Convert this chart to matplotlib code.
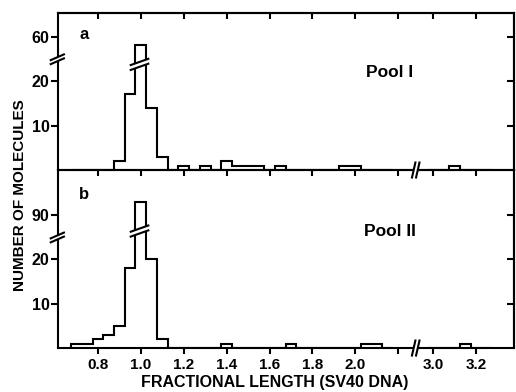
import numpy as np
import matplotlib
matplotlib.use('Agg')
from matplotlib import pyplot as plt
from matplotlib.transforms import blended_transform_factory

# histogram counts (bin width 0.05, given by bin centre)
pool1_centers = [0.90, 0.95, 1.00, 1.05, 1.10, 1.20, 1.30, 1.40, 1.45, 1.50, 1.55, 1.65, 1.95, 2.00, 3.10]
pool1_counts = [2, 17, 58, 14, 3, 1, 1, 2, 1, 1, 1, 1, 1, 1, 1]
pool2_centers = [0.70, 0.75, 0.80, 0.85, 0.90, 0.95, 1.00, 1.05, 1.10, 1.40, 1.70, 2.05, 2.10, 3.15]
pool2_counts = [1, 1, 2, 3, 5, 18, 93, 20, 2, 1, 1, 1, 1, 1]

x_ticks = [0.8, 1.0, 1.2, 1.4, 1.6, 1.8, 2.0, 2.2, 3.0, 3.2]
x_ticklabels = ['0.8', '1.0', '1.2', '1.4', '1.6', '1.8', '2.0', '', '3.0', '3.2']
pool1_yticks = [10, 20, 60]
pool2_yticks = [10, 20, 90]

BIN = 0.05
X_GAP = 0.637     # x axis is cut between 2.2 and 3.0
Y_CUT = 25        # y axis is cut above this value

plt.rcParams['font.family'] = ['Liberation Sans', 'DejaVu Sans']
plt.rcParams['font.weight'] = 'bold'
LW = 1.5


def xpos(v):
    v = np.asarray(v, dtype=float)
    return np.where(v > 2.5, v - X_GAP, v)


def ypos(v, off):
    v = np.asarray(v, dtype=float)
    return np.where(v > Y_CUT, v - off, v)


def make_hist(centers, counts, lo, hi):
    edges = np.arange(lo, hi + BIN / 2, BIN)
    vals = np.zeros(len(edges) - 1)
    for c, n in zip(centers, counts):
        i = int(round((c - lo) / BIN - 0.5))
        if 0 <= i < len(vals):
            vals[i] = n
    return edges, vals


def draw_panel(ax, centers, counts, yoff, yticks, ytop, letter, pool, ybar, pool_y):
    for lo, hi in [(0.675, 2.175), (2.975, 3.275)]:
        edges, vals = make_hist(centers, counts, lo, hi)
        ax.stairs(ypos(vals, yoff), xpos(edges), color='k', lw=LW, baseline=0, zorder=3)

    # break marks across the tall peak bar
    xs = np.array([0.953, 1.035])
    poly_x = [xs[0], xs[1], xs[1], xs[0]]
    poly_y = [ybar - 0.7, ybar + 0.7, ybar + 1.8, ybar + 0.4]
    ax.fill(poly_x, poly_y, color='white', zorder=4, lw=0)
    ax.plot(xs, [ybar - 0.7, ybar + 0.7], color='k', lw=LW, zorder=5)
    ax.plot(xs, [ybar + 0.4, ybar + 1.8], color='k', lw=LW, zorder=5)

    # break marks on the left y spine
    tr = blended_transform_factory(ax.transAxes, ax.transData)
    bx = np.array([-0.016, 0.013])
    ax.fill([bx[0], bx[1], bx[1], bx[0]], [Y_CUT - 1.2, Y_CUT + 0.1, Y_CUT + 1.0, Y_CUT - 0.3],
            color='white', transform=tr, clip_on=False, zorder=6, lw=0)
    ax.plot(bx, [Y_CUT - 1.2, Y_CUT + 0.1], color='k', lw=LW, transform=tr, clip_on=False, zorder=7)
    ax.plot(bx, [Y_CUT - 0.3, Y_CUT + 1.0], color='k', lw=LW, transform=tr, clip_on=False, zorder=7)

    # break marks on the bottom x spine
    tr = blended_transform_factory(ax.transData, ax.transAxes)
    xb = 2.272
    h = 7.5 / (ax.get_position().height * 392)
    ax.fill([xb - 0.008, xb + 0.008, xb + 0.027, xb + 0.011], [-h, h, h, -h],
            color='white', transform=tr, clip_on=False, zorder=6, lw=0)
    for dx in [0, 0.019]:
        ax.plot([xb - 0.008 + dx, xb + 0.008 + dx], [-h, h], color='k', lw=LW,
                transform=tr, clip_on=False, zorder=7)

    ax.set_xlim(0.614, 2.7395)
    ax.set_ylim(0, ytop)
    ax.set_facecolor('none')
    for s in ax.spines.values():
        s.set_linewidth(LW)

    ax.set_xticks(xpos(x_ticks))
    ax.tick_params(axis='x', direction='out', length=4.5, width=LW, pad=3, labelsize=11)
    yt = ypos(yticks, yoff)
    ax.set_yticks(yt)
    ax.set_yticklabels([str(t) for t in yticks])
    ax.tick_params(axis='y', direction='out', length=5, width=LW, pad=1, labelsize=11.5)

    right = ax.secondary_yaxis('right')
    right.set_yticks(yt)
    right.set_yticklabels([])
    right.tick_params(direction='in', length=5, width=LW)
    right.spines['right'].set_linewidth(LW)

    ax.text(0.058, 0.86, letter, transform=ax.transAxes, fontsize=12, fontweight='bold',
            ha='center', va='center')
    ax.text(0.728, pool_y, pool, transform=ax.transAxes, fontsize=12.5, fontweight='bold',
            ha='center', va='center')


fig = plt.figure(figsize=(5.16, 3.92), dpi=100)
ax_b = fig.add_axes([0.1124, 0.1122, 0.8837, 0.4541])
ax_a = fig.add_axes([0.1124, 0.5663, 0.8837, 0.4005])

draw_panel(ax_a, pool1_centers, pool1_counts, 30, pool1_yticks, 35.3, 'a', 'Pool I', 23.2, 0.618)
draw_panel(ax_b, pool2_centers, pool2_counts, 60, pool2_yticks, 40.1, 'b', 'Pool II', 25.8, 0.652)

ax_a.set_xticklabels([])
top = ax_a.secondary_xaxis('top')
top.set_xticks(xpos(x_ticks))
top.set_xticklabels([])
top.tick_params(direction='in', length=4.5, width=LW)
top.spines['top'].set_linewidth(LW)
ax_b.set_xticklabels(x_ticklabels)

fig.text(0.039, 0.503, 'NUMBER OF MOLECULES', rotation=90, fontsize=11, fontweight='bold',
         ha='center', va='center')
fig.text(0.533, 0.023, 'FRACTIONAL LENGTH (SV40 DNA)', fontsize=11.5, fontweight='bold',
         ha='center', va='center')

fig.savefig('out.png', dpi=100)
